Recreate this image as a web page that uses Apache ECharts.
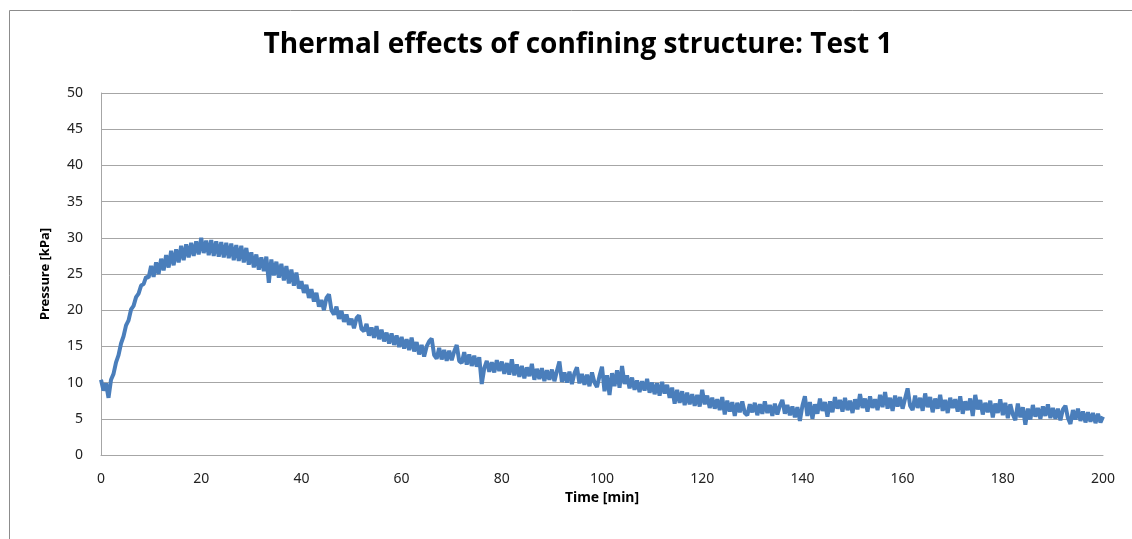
<!DOCTYPE html>
<html>
<head>
<meta charset="utf-8">
<script src="https://cdn.jsdelivr.net/npm/echarts@6/dist/echarts.min.js"></script>
<style>
html,body{margin:0;padding:0;background:#fff;}
#chart{width:1132px;height:539px;}
</style>
</head>
<body>
<div id="chart"></div>
<script>
const titleText = 'Thermal effects of confining structure: Test 1';
const xAxisName = 'Time [min]';
const yAxisName = 'Pressure [kPa]';
const xTicks = [0, 20, 40, 60, 80, 100, 120, 140, 160, 180, 200];
const yTicks = [0, 5, 10, 15, 20, 25, 30, 35, 40, 45, 50];
const timeStart = 0;
const timeStep = 0.5; // minutes between samples
const pressure = [
  // 0-10
  10.4, 8.9, 9.9, 7.9, 10.4, 11.2, 12.8, 13.8, 15.4, 16.4, 17.9, 18.6, 20.1, 20.6, 21.8, 22.3, 23.4, 23.6, 24.6, 24.5,
  // 10-20
  26.1, 24.6, 26.6, 25.0, 27.1, 25.5, 27.6, 25.9, 28.2, 26.2, 28.4, 26.6, 28.9, 26.9, 29.1, 27.3, 29.3, 27.5, 29.5, 27.7,
  // 20-30
  30.0, 27.9, 29.6, 27.6, 29.7, 27.5, 29.5, 27.4, 29.4, 27.3, 29.3, 27.2, 29.2, 26.9, 29.0, 26.8, 28.9, 26.6, 28.6, 26.3,
  // 30-40
  28.0, 25.9, 27.7, 25.6, 27.3, 25.4, 27.4, 23.8, 27.0, 24.8, 26.7, 24.5, 26.4, 24.1, 26.1, 23.7, 25.6, 23.4, 25.2, 23.0,
  // 40-50
  24.0, 22.4, 23.5, 21.7, 22.9, 21.2, 22.4, 20.5, 21.4, 20.0, 21.7, 22.2, 20.0, 19.4, 20.5, 18.8, 19.9, 18.4, 19.4, 18.0,
  // 50-60
  18.8, 17.5, 18.9, 19.3, 17.4, 17.1, 18.1, 16.5, 17.6, 16.2, 17.8, 16.0, 17.3, 15.7, 16.9, 15.4, 16.8, 15.2, 16.5, 14.9,
  // 60-70
  16.3, 14.7, 16.0, 14.5, 16.2, 14.3, 15.6, 13.9, 15.2, 13.6, 15.0, 15.7, 16.1, 13.8, 13.3, 14.8, 13.2, 14.5, 13.0, 14.4,
  // 70-80
  13.1, 14.3, 15.2, 13.0, 12.7, 14.2, 12.5, 13.9, 12.3, 13.7, 12.2, 13.5, 9.8, 12.0, 13.0, 11.5, 12.8, 11.4, 13.1, 11.6,
  // 80-90
  12.9, 11.2, 12.7, 11.1, 13.2, 11.0, 12.5, 10.8, 12.3, 10.6, 12.1, 10.9, 12.6, 10.4, 11.9, 10.5, 12.0, 10.2, 11.7, 10.4,
  // 90-100
  11.8, 10.2, 11.6, 12.9, 10.1, 11.4, 10.0, 11.5, 9.8, 11.3, 12.1, 9.9, 11.2, 9.7, 11.1, 9.5, 11.4, 10.0, 9.4, 10.9,
  // 100-110
  12.2, 8.8, 11.0, 8.3, 11.3, 9.5, 11.7, 9.3, 12.3, 9.8, 11.0, 9.2, 10.7, 9.0, 10.3, 8.7, 10.2, 8.9, 10.5, 8.6,
  // 110-120
  10.0, 8.4, 9.9, 8.2, 10.1, 8.5, 9.7, 7.9, 9.3, 7.1, 9.0, 7.2, 8.8, 6.9, 8.6, 7.0, 8.4, 6.8, 8.3, 6.7,
  // 120-130
  9.0, 7.0, 8.2, 6.5, 7.9, 6.4, 7.7, 6.2, 8.0, 5.6, 7.5, 6.0, 7.3, 5.4, 7.2, 5.9, 7.4, 5.8, 5.5, 7.0,
  // 130-140
  5.9, 7.2, 5.5, 7.0, 5.7, 7.4, 5.8, 6.9, 5.4, 7.1, 5.6, 6.8, 7.6, 5.7, 6.9, 5.5, 6.7, 5.2, 6.6, 4.7,
  // 140-150
  6.8, 8.1, 5.4, 7.3, 5.0, 7.0, 5.7, 7.8, 6.1, 7.3, 5.3, 7.4, 5.9, 8.0, 6.4, 7.6, 6.0, 7.9, 6.2, 7.5,
  // 150-160
  5.8, 7.7, 6.3, 8.4, 6.5, 7.8, 6.0, 8.1, 6.5, 7.7, 6.2, 8.3, 6.6, 8.7, 6.4, 7.9, 6.1, 8.2, 6.7, 8.0,
  // 160-170
  6.4, 7.8, 9.2, 6.8, 6.2, 8.2, 6.5, 7.9, 6.1, 8.5, 6.6, 8.0, 5.9, 7.8, 6.4, 8.3, 6.1, 7.6, 5.8, 7.9,
  // 170-180
  6.5, 7.7, 6.0, 8.1, 5.7, 7.4, 6.2, 7.8, 5.4, 8.3, 6.3, 7.6, 5.6, 7.2, 5.9, 7.5, 5.2, 7.1, 5.8, 7.7,
  // 180-190
  5.5, 7.2, 5.1, 7.0, 5.6, 4.8, 7.1, 5.2, 6.6, 4.2, 6.4, 4.9, 6.9, 5.3, 6.5, 5.0, 6.7, 5.4, 7.0, 5.1,
  // 190-200
  6.5, 5.0, 6.4, 4.8, 6.3, 6.8, 5.1, 4.3, 6.2, 4.9, 6.4, 4.7, 6.0, 4.5, 5.9, 4.6, 5.8, 4.4, 5.7, 4.5,
  5.3
];

const seriesData = pressure.map((v, i) => [timeStart + i * timeStep, v]);

const chart = echarts.init(document.getElementById('chart'), null, {renderer: 'canvas'});
const labelFont = 'Noto Sans';
chart.setOption({
  animation: false,
  backgroundColor: '#ffffff',
  title: {
    text: titleText,
    left: 573,
    top: 26,
    textAlign: 'center',
    textStyle: {fontFamily: 'Open Sans', fontWeight: 'bold', fontSize: 28, color: '#000'}
  },
  graphic: [{
    type: 'rect',
    shape: {x: 9.5, y: 10.5, width: 1200, height: 700},
    style: {fill: 'none', stroke: '#8c8c8c', lineWidth: 1},
    silent: true
  }],
  grid: {left: 101, right: 29, top: 93, bottom: 84, containLabel: false},
  xAxis: {
    type: 'value',
    min: xTicks[0],
    max: xTicks[xTicks.length - 1],
    interval: 20,
    name: xAxisName,
    nameLocation: 'middle',
    nameGap: 34,
    nameTextStyle: {fontFamily: labelFont, fontWeight: 'bold', fontSize: 14, color: '#000'},
    axisLine: {show: true, lineStyle: {color: '#a6a6a6', width: 1}},
    axisTick: {show: false},
    splitLine: {show: false},
    axisLabel: {fontFamily: labelFont, fontSize: 14, color: '#222', margin: 17}
  },
  yAxis: {
    type: 'value',
    min: yTicks[0],
    max: yTicks[yTicks.length - 1],
    interval: 5,
    name: yAxisName,
    nameLocation: 'middle',
    nameGap: 49,
    nameRotate: 90,
    nameTextStyle: {fontFamily: labelFont, fontWeight: 'bold', fontSize: 13, color: '#000'},
    axisLine: {show: true, lineStyle: {color: '#a6a6a6', width: 1}},
    axisTick: {show: false},
    splitLine: {show: true, lineStyle: {color: '#a6a6a6', width: 1}},
    axisLabel: {fontFamily: labelFont, fontSize: 14, color: '#222', margin: 18}
  },
  series: [{
    type: 'line',
    data: seriesData,
    showSymbol: false,
    symbol: 'none',
    lineStyle: {color: '#4a7ebb', width: 4},
    z: 3
  }]
});
</script>
</body>
</html>
